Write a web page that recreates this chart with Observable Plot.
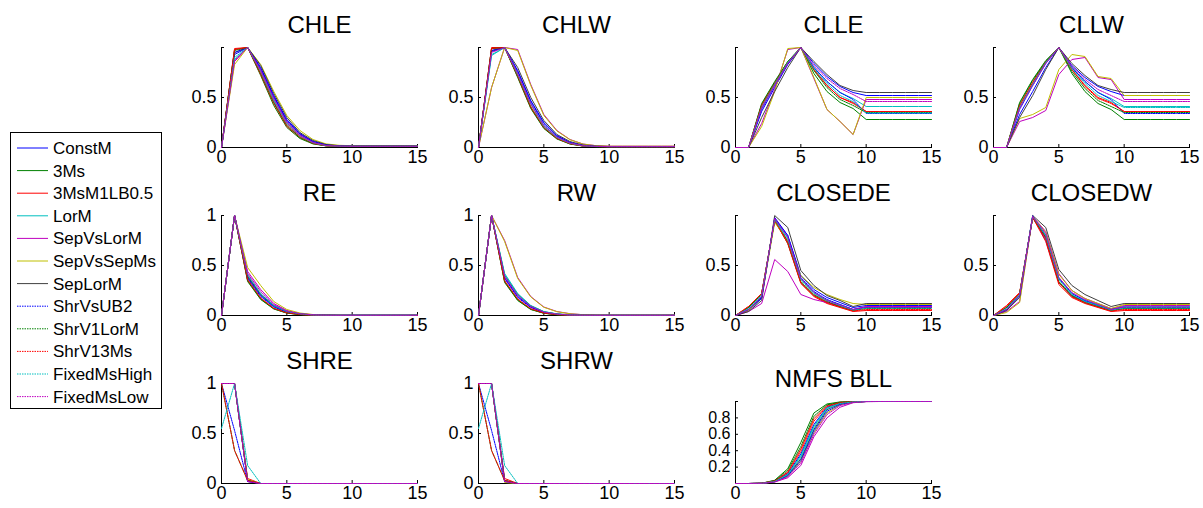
<!DOCTYPE html>
<html>
<head>
<meta charset="utf-8">
<script src="https://cdn.jsdelivr.net/npm/d3@7"></script>
<script src="https://cdn.jsdelivr.net/npm/@observablehq/plot@0.6"></script>
<style>
  html, body { margin: 0; padding: 0; background: #fff; }
  #root { position: relative; width: 1203px; height: 508px; overflow: hidden; font-family: "Liberation Sans", Arial, sans-serif; }
  .pane { position: absolute; }
</style>
</head>
<body>
<div id="root"></div>
<script>
const ages = [0,1,2,3,4,5,6,7,8,9,10,11,12,13,14,15];
const seriesNames = ["ConstM","3Ms","3MsM1LB0.5","LorM","SepVsLorM","SepVsSepMs","SepLorM","ShrVsUB2","ShrV1LorM","ShrV13Ms","FixedMsHigh","FixedMsLow"];
const seriesColors = ["#0000ff","#008000","#ff0000","#00bfbf","#bf00bf","#bfbf00","#404040","#0000ff","#008000","#ff0000","#00bfbf","#bf00bf"];
const seriesDotted = [false,false,false,false,false,false,false,true,true,true,true,true];

const CHLE = [
  [0,0.93,1,0.80,0.52,0.28,0.14,0.06,0.026,0.016,0.013,0.013,0.013,0.013,0.013,0.013],
  [0,0.98,1,0.72,0.42,0.20,0.09,0.036,0.016,0.011,0.010,0.010,0.010,0.010,0.010,0.010],
  [0,0.99,1,0.73,0.44,0.21,0.10,0.040,0.017,0.012,0.011,0.011,0.011,0.011,0.011,0.011],
  [0,0.88,1,0.77,0.48,0.25,0.12,0.050,0.021,0.014,0.012,0.012,0.012,0.012,0.012,0.012],
  [0,0.86,1,0.78,0.50,0.26,0.13,0.055,0.023,0.015,0.013,0.013,0.013,0.013,0.013,0.013],
  [0,0.83,1,0.83,0.56,0.32,0.17,0.080,0.036,0.022,0.018,0.018,0.018,0.018,0.018,0.018],
  [0,0.95,1,0.82,0.54,0.30,0.15,0.070,0.030,0.018,0.015,0.015,0.015,0.015,0.015,0.015],
  [0,0.95,1,0.79,0.51,0.27,0.135,0.060,0.025,0.016,0.013,0.013,0.013,0.013,0.013,0.013],
  [0,0.97,1,0.74,0.45,0.22,0.10,0.040,0.017,0.012,0.011,0.011,0.011,0.011,0.011,0.011],
  [0,0.98,1,0.75,0.46,0.23,0.11,0.045,0.018,0.012,0.011,0.011,0.011,0.011,0.011,0.011],
  [0,0.90,1,0.76,0.47,0.24,0.115,0.048,0.019,0.013,0.012,0.012,0.012,0.012,0.012,0.012],
  [0,0.87,1,0.77,0.49,0.25,0.12,0.050,0.020,0.014,0.012,0.012,0.012,0.012,0.012,0.012]
];
const CHLW = [
  [0,0.96,1,0.77,0.47,0.25,0.12,0.050,0.020,0.012,0.010,0.010,0.010,0.010,0.010,0.010],
  [0,0.99,1,0.70,0.39,0.19,0.085,0.035,0.014,0.009,0.008,0.008,0.008,0.008,0.008,0.008],
  [0,1.00,1,0.71,0.40,0.20,0.09,0.040,0.015,0.010,0.008,0.008,0.008,0.008,0.008,0.008],
  [0,0.92,1,0.74,0.44,0.22,0.105,0.045,0.018,0.011,0.009,0.009,0.009,0.009,0.009,0.009],
  [0,0.60,1,0.98,0.63,0.33,0.17,0.080,0.035,0.018,0.013,0.013,0.013,0.013,0.013,0.013],
  [0,0.60,1,0.97,0.62,0.32,0.165,0.078,0.034,0.018,0.013,0.013,0.013,0.013,0.013,0.013],
  [0,0.97,1,0.80,0.50,0.27,0.13,0.060,0.025,0.013,0.010,0.010,0.010,0.010,0.010,0.010],
  [0,0.97,1,0.76,0.46,0.24,0.115,0.050,0.020,0.011,0.009,0.009,0.009,0.009,0.009,0.009],
  [0,0.99,1,0.71,0.40,0.195,0.09,0.036,0.015,0.009,0.008,0.008,0.008,0.008,0.008,0.008],
  [0,0.99,1,0.72,0.41,0.20,0.092,0.038,0.015,0.010,0.008,0.008,0.008,0.008,0.008,0.008],
  [0,0.93,1,0.73,0.43,0.21,0.10,0.043,0.017,0.010,0.009,0.009,0.009,0.009,0.009,0.009],
  [0,0.95,1,0.74,0.44,0.22,0.105,0.045,0.018,0.011,0.009,0.009,0.009,0.009,0.009,0.009]
];
const CLLE = [
  [0,0,0.36,0.60,0.83,1,0.84,0.71,0.61,0.55,0.52,0.52,0.52,0.52,0.52,0.52],
  [0,0,0.44,0.66,0.86,1,0.74,0.56,0.45,0.39,0.28,0.28,0.28,0.28,0.28,0.28],
  [0,0,0.42,0.64,0.85,1,0.78,0.62,0.50,0.45,0.36,0.36,0.36,0.36,0.36,0.36],
  [0,0,0.40,0.63,0.85,1,0.80,0.66,0.55,0.49,0.41,0.41,0.41,0.41,0.41,0.41],
  [0,0,0.24,0.58,0.98,1,0.69,0.38,0.26,0.13,0.48,0.48,0.48,0.48,0.48,0.48],
  [0,0,0.21,0.56,0.99,1,0.70,0.38,0.26,0.13,0.50,0.50,0.50,0.50,0.50,0.50],
  [0,0,0.30,0.56,0.80,1,0.86,0.73,0.62,0.57,0.55,0.55,0.55,0.55,0.55,0.55],
  [0,0,0.38,0.62,0.84,1,0.80,0.66,0.55,0.48,0.34,0.34,0.34,0.34,0.34,0.34],
  [0,0,0.43,0.65,0.86,1,0.77,0.60,0.48,0.42,0.35,0.35,0.35,0.35,0.35,0.35],
  [0,0,0.42,0.64,0.85,1,0.78,0.62,0.50,0.44,0.36,0.36,0.36,0.36,0.36,0.36],
  [0,0,0.40,0.63,0.85,1,0.79,0.64,0.52,0.46,0.345,0.345,0.345,0.345,0.345,0.345],
  [0,0,0.39,0.62,0.84,1,0.82,0.69,0.59,0.53,0.46,0.46,0.46,0.46,0.46,0.46]
];
const CLLW = [
  [0,0,0.33,0.56,0.80,1,0.82,0.70,0.61,0.56,0.52,0.52,0.52,0.52,0.52,0.52],
  [0,0,0.45,0.68,0.87,1,0.74,0.56,0.44,0.38,0.28,0.28,0.28,0.28,0.28,0.28],
  [0,0,0.42,0.65,0.86,1,0.78,0.62,0.50,0.45,0.36,0.36,0.36,0.36,0.36,0.36],
  [0,0,0.40,0.63,0.85,1,0.80,0.66,0.55,0.49,0.41,0.41,0.41,0.41,0.41,0.41],
  [0,0,0.26,0.30,0.37,0.73,0.88,0.90,0.70,0.68,0.48,0.48,0.48,0.48,0.48,0.48],
  [0,0,0.29,0.33,0.40,0.78,0.93,0.91,0.71,0.69,0.52,0.52,0.52,0.52,0.52,0.52],
  [0,0,0.30,0.52,0.78,1,0.84,0.72,0.62,0.58,0.55,0.55,0.55,0.55,0.55,0.55],
  [0,0,0.38,0.62,0.84,1,0.80,0.66,0.55,0.48,0.34,0.34,0.34,0.34,0.34,0.34],
  [0,0,0.44,0.67,0.86,1,0.76,0.59,0.47,0.41,0.35,0.35,0.35,0.35,0.35,0.35],
  [0,0,0.42,0.65,0.85,1,0.78,0.61,0.49,0.44,0.36,0.36,0.36,0.36,0.36,0.36],
  [0,0,0.40,0.63,0.85,1,0.79,0.64,0.52,0.46,0.40,0.40,0.40,0.40,0.40,0.40],
  [0,0,0.39,0.62,0.84,1,0.81,0.68,0.58,0.52,0.46,0.46,0.46,0.46,0.46,0.46]
];
const RE = [
  [0,1,0.38,0.20,0.090,0.035,0.014,0.006,0.003,0.002,0.002,0.002,0.002,0.002,0.002,0.002],
  [0,1,0.34,0.16,0.065,0.024,0.009,0.004,0.002,0.001,0.001,0.001,0.001,0.001,0.001,0.001],
  [0,1,0.35,0.17,0.070,0.026,0.010,0.004,0.002,0.001,0.001,0.001,0.001,0.001,0.001,0.001],
  [0,1,0.40,0.21,0.095,0.037,0.015,0.006,0.003,0.002,0.002,0.002,0.002,0.002,0.002,0.002],
  [0,1,0.44,0.26,0.12,0.050,0.020,0.008,0.004,0.002,0.002,0.002,0.002,0.002,0.002,0.002],
  [0,1,0.48,0.30,0.14,0.060,0.025,0.010,0.005,0.003,0.002,0.002,0.002,0.002,0.002,0.002],
  [0,1,0.39,0.21,0.10,0.040,0.016,0.007,0.003,0.002,0.002,0.002,0.002,0.002,0.002,0.002],
  [0,1,0.37,0.19,0.085,0.032,0.013,0.005,0.003,0.002,0.002,0.002,0.002,0.002,0.002,0.002],
  [0,1,0.35,0.165,0.068,0.025,0.010,0.004,0.002,0.001,0.001,0.001,0.001,0.001,0.001,0.001],
  [0,1,0.36,0.175,0.073,0.027,0.011,0.004,0.002,0.001,0.001,0.001,0.001,0.001,0.001,0.001],
  [0,1,0.41,0.22,0.10,0.040,0.016,0.006,0.003,0.002,0.002,0.002,0.002,0.002,0.002,0.002],
  [0,1,0.42,0.24,0.11,0.045,0.018,0.007,0.003,0.002,0.002,0.002,0.002,0.002,0.002,0.002]
];
const RW = [
  [0,1,0.38,0.19,0.085,0.032,0.013,0.005,0.003,0.002,0.002,0.002,0.002,0.002,0.002,0.002],
  [0,1,0.33,0.15,0.060,0.022,0.008,0.003,0.002,0.001,0.001,0.001,0.001,0.001,0.001,0.001],
  [0,1,0.34,0.16,0.065,0.024,0.009,0.004,0.002,0.001,0.001,0.001,0.001,0.001,0.001,0.001],
  [0,1,0.42,0.22,0.10,0.040,0.016,0.006,0.003,0.002,0.002,0.002,0.002,0.002,0.002,0.002],
  [0,1,0.75,0.38,0.19,0.085,0.040,0.018,0.008,0.004,0.003,0.003,0.003,0.003,0.003,0.003],
  [0,1,0.74,0.37,0.185,0.082,0.038,0.017,0.008,0.004,0.003,0.003,0.003,0.003,0.003,0.003],
  [0,1,0.40,0.21,0.095,0.037,0.015,0.006,0.003,0.002,0.002,0.002,0.002,0.002,0.002,0.002],
  [0,1,0.37,0.18,0.080,0.030,0.012,0.005,0.002,0.001,0.001,0.001,0.001,0.001,0.001,0.001],
  [0,1,0.34,0.155,0.062,0.023,0.009,0.003,0.002,0.001,0.001,0.001,0.001,0.001,0.001,0.001],
  [0,1,0.35,0.165,0.068,0.025,0.010,0.004,0.002,0.001,0.001,0.001,0.001,0.001,0.001,0.001],
  [0,1,0.41,0.21,0.098,0.038,0.015,0.006,0.003,0.002,0.002,0.002,0.002,0.002,0.002,0.002],
  [0,1,0.39,0.20,0.090,0.034,0.014,0.005,0.003,0.002,0.002,0.002,0.002,0.002,0.002,0.002]
];
const CLOSEDE = [
  [0,0.05,0.17,0.98,0.80,0.40,0.26,0.18,0.13,0.08,0.10,0.10,0.10,0.10,0.10,0.10],
  [0,0.08,0.22,0.95,0.72,0.33,0.20,0.13,0.09,0.05,0.08,0.08,0.08,0.08,0.08,0.08],
  [0,0.09,0.22,0.95,0.72,0.32,0.19,0.12,0.08,0.04,0.05,0.05,0.05,0.05,0.05,0.05],
  [0,0.06,0.19,0.96,0.78,0.37,0.23,0.15,0.11,0.06,0.09,0.09,0.09,0.09,0.09,0.09],
  [0,0.04,0.12,0.56,0.44,0.21,0.16,0.13,0.10,0.06,0.09,0.09,0.09,0.09,0.09,0.09],
  [0,0.05,0.18,0.93,0.75,0.40,0.28,0.21,0.16,0.12,0.11,0.11,0.11,0.11,0.11,0.11],
  [0,0.04,0.15,1.00,0.88,0.45,0.30,0.20,0.15,0.09,0.12,0.12,0.12,0.12,0.12,0.12],
  [0,0.06,0.18,0.97,0.80,0.38,0.24,0.16,0.11,0.06,0.08,0.08,0.08,0.08,0.08,0.08],
  [0,0.08,0.21,0.96,0.74,0.34,0.21,0.14,0.09,0.05,0.07,0.07,0.07,0.07,0.07,0.07],
  [0,0.09,0.22,0.95,0.73,0.33,0.20,0.13,0.085,0.045,0.06,0.06,0.06,0.06,0.06,0.06],
  [0,0.07,0.20,0.96,0.76,0.36,0.22,0.15,0.10,0.055,0.075,0.075,0.075,0.075,0.075,0.075],
  [0,0.06,0.19,0.97,0.78,0.37,0.23,0.15,0.105,0.06,0.085,0.085,0.085,0.085,0.085,0.085]
];
const CLOSEDW = [
  [0,0.06,0.20,1.00,0.75,0.33,0.20,0.14,0.10,0.06,0.09,0.09,0.09,0.09,0.09,0.09],
  [0,0.08,0.22,0.98,0.78,0.33,0.19,0.13,0.09,0.05,0.07,0.07,0.07,0.07,0.07,0.07],
  [0,0.10,0.23,0.98,0.74,0.31,0.18,0.12,0.08,0.04,0.05,0.05,0.05,0.05,0.05,0.05],
  [0,0.05,0.20,0.99,0.80,0.38,0.22,0.15,0.11,0.06,0.09,0.09,0.09,0.09,0.09,0.09],
  [0,0.04,0.14,0.99,0.84,0.42,0.25,0.17,0.12,0.07,0.10,0.10,0.10,0.10,0.10,0.10],
  [0,0.03,0.13,0.99,0.83,0.41,0.25,0.17,0.12,0.07,0.11,0.11,0.11,0.11,0.11,0.11],
  [0,0.05,0.18,1.00,0.88,0.46,0.30,0.21,0.15,0.09,0.12,0.12,0.12,0.12,0.12,0.12],
  [0,0.06,0.20,0.99,0.80,0.37,0.22,0.15,0.10,0.06,0.08,0.08,0.08,0.08,0.08,0.08],
  [0,0.08,0.22,0.98,0.78,0.34,0.20,0.13,0.09,0.05,0.07,0.07,0.07,0.07,0.07,0.07],
  [0,0.09,0.22,0.98,0.77,0.33,0.19,0.13,0.085,0.045,0.06,0.06,0.06,0.06,0.06,0.06],
  [0,0.07,0.21,0.99,0.80,0.36,0.21,0.14,0.10,0.055,0.075,0.075,0.075,0.075,0.075,0.075],
  [0,0.06,0.20,0.99,0.82,0.38,0.23,0.16,0.11,0.06,0.085,0.085,0.085,0.085,0.085,0.085]
];
const SHRE = [
  [1,1,0.03,0,0,0,0,0,0,0,0,0,0,0,0,0],
  [1,1,0.02,0,0,0,0,0,0,0,0,0,0,0,0,0],
  [1,1,0.05,0,0,0,0,0,0,0,0,0,0,0,0,0],
  [1,1,0.03,0,0,0,0,0,0,0,0,0,0,0,0,0],
  [1,1,0.02,0,0,0,0,0,0,0,0,0,0,0,0,0],
  [1,1,0.04,0,0,0,0,0,0,0,0,0,0,0,0,0],
  [1,1,0.03,0,0,0,0,0,0,0,0,0,0,0,0,0],
  [1,0.53,0.02,0,0,0,0,0,0,0,0,0,0,0,0,0],
  [1,0.33,0.03,0,0,0,0,0,0,0,0,0,0,0,0,0],
  [1,0.33,0.03,0,0,0,0,0,0,0,0,0,0,0,0,0],
  [0.55,1,0.18,0,0,0,0,0,0,0,0,0,0,0,0,0],
  [1,1,0.02,0,0,0,0,0,0,0,0,0,0,0,0,0]
];
const SHRW = [
  [1,1,0.03,0,0,0,0,0,0,0,0,0,0,0,0,0],
  [1,1,0.02,0,0,0,0,0,0,0,0,0,0,0,0,0],
  [1,1,0.05,0,0,0,0,0,0,0,0,0,0,0,0,0],
  [1,1,0.03,0,0,0,0,0,0,0,0,0,0,0,0,0],
  [1,1,0.02,0,0,0,0,0,0,0,0,0,0,0,0,0],
  [1,1,0.01,0,0,0,0,0,0,0,0,0,0,0,0,0],
  [1,1,0.03,0,0,0,0,0,0,0,0,0,0,0,0,0],
  [1,0.53,0.02,0,0,0,0,0,0,0,0,0,0,0,0,0],
  [1,0.33,0.03,0,0,0,0,0,0,0,0,0,0,0,0,0],
  [1,0.33,0.03,0,0,0,0,0,0,0,0,0,0,0,0,0],
  [0.55,1,0.18,0,0,0,0,0,0,0,0,0,0,0,0,0],
  [1,1,0.02,0,0,0,0,0,0,0,0,0,0,0,0,0]
];
const NMFSBLL = [
  [0,0,0.002,0.028,0.12,0.36,0.72,0.93,0.98,0.996,1,1,1,1,1,1],
  [0,0,0.003,0.040,0.18,0.50,0.86,0.97,0.995,1,1,1,1,1,1,1],
  [0,0,0.003,0.032,0.14,0.42,0.79,0.95,0.99,0.998,1,1,1,1,1,1],
  [0,0,0.002,0.026,0.11,0.34,0.70,0.92,0.98,0.996,1,1,1,1,1,1],
  [0,0,0.002,0.018,0.07,0.22,0.57,0.80,0.93,0.985,0.998,1,1,1,1,1],
  [0,0,0.002,0.020,0.09,0.27,0.62,0.86,0.96,0.99,1,1,1,1,1,1],
  [0,0,0.002,0.024,0.10,0.30,0.66,0.90,0.97,0.994,1,1,1,1,1,1],
  [0,0,0.002,0.022,0.095,0.28,0.64,0.88,0.965,0.992,1,1,1,1,1,1],
  [0,0,0.003,0.035,0.16,0.45,0.82,0.96,0.99,0.999,1,1,1,1,1,1],
  [0,0,0.003,0.030,0.13,0.39,0.76,0.94,0.985,0.997,1,1,1,1,1,1],
  [0,0,0.002,0.025,0.105,0.32,0.68,0.91,0.975,0.995,1,1,1,1,1,1],
  [0,0,0.002,0.019,0.08,0.25,0.60,0.84,0.95,0.988,0.999,1,1,1,1,1]
];

const xTicks = [0,5,10,15];
const panels = [
  {title:"CHLE", data:CHLE, col:0, row:0, yLabels:[0,0.5], yMarks:[0,0.5,1]},
  {title:"CHLW", data:CHLW, col:1, row:0, yLabels:[0,0.5], yMarks:[0,0.5,1]},
  {title:"CLLE", data:CLLE, col:2, row:0, yLabels:[0,0.5], yMarks:[0,0.5,1]},
  {title:"CLLW", data:CLLW, col:3, row:0, yLabels:[0,0.5], yMarks:[0,0.5,1]},
  {title:"RE", data:RE, col:0, row:1, yLabels:[0,0.5,1], yMarks:[0,0.5,1]},
  {title:"RW", data:RW, col:1, row:1, yLabels:[0,0.5,1], yMarks:[0,0.5,1]},
  {title:"CLOSEDE", data:CLOSEDE, col:2, row:1, yLabels:[0,0.5], yMarks:[0,0.5,1]},
  {title:"CLOSEDW", data:CLOSEDW, col:3, row:1, yLabels:[0,0.5], yMarks:[0,0.5,1]},
  {title:"SHRE", data:SHRE, col:0, row:2, yLabels:[0,0.5,1], yMarks:[0,0.5,1]},
  {title:"SHRW", data:SHRW, col:1, row:2, yLabels:[0,0.5,1], yMarks:[0,0.5,1]},
  {title:"NMFS BLL", data:NMFSBLL, col:2, row:2, yLabels:[0.2,0.4,0.6,0.8], yMarks:[0.2,0.4,0.6,0.8,1], short:true}
];

const colX = [221, 478, 735, 993];
const rowTop = [47, 215, 383];
const plotW = 196, plotH = 100;
const ML = 50, MR = 12, MT = 45, MB = 24;
const FONT = "'Liberation Sans', Arial, sans-serif";
const root = document.getElementById("root");

for (const p of panels) {
  const h = p.short ? 82 : plotH;
  const top = p.short ? 401 : rowTop[p.row];
  const yFont = p.short ? 16 : 18;
  const rows = [];
  p.data.forEach((vals, s) => vals.forEach((v, i) => rows.push({age: ages[i], v, s})));
  const lineMarks = seriesNames.map((name, s) => Plot.line(rows.filter(d => d.s === s), {
    x: "age", y: "v",
    stroke: seriesColors[s],
    strokeWidth: 1,
    strokeDasharray: seriesDotted[s] ? "1.5,1" : null
  }));
  const chart = Plot.plot({
    width: ML + plotW + MR,
    height: MT + h + MB,
    marginLeft: ML, marginRight: MR, marginTop: MT, marginBottom: MB,
    x: {domain: [0, 15], label: null},
    y: {domain: [0, 1], label: null},
    style: {fontFamily: FONT, color: "#000", background: "transparent", overflow: "visible"},
    marks: [
      Plot.axisX({ticks: xTicks, tickSize: 0, tickPadding: 3, fontSize: 18, label: null, tickFormat: d => String(d)}),
      Plot.axisY({ticks: p.yLabels, tickSize: 0, tickPadding: 5, fontSize: yFont, label: null, tickFormat: d => String(d)}),
      Plot.tickX(xTicks, {x: d => d, insetTop: h - 3, stroke: "#000"}),
      Plot.tickY(p.yMarks, {y: d => d, insetRight: plotW - 3, stroke: "#000"}),
      Plot.frame({anchor: "left", stroke: "#000"}),
      Plot.frame({anchor: "bottom", stroke: "#000"}),
      ...lineMarks,
      Plot.text([p.title], {text: d => d, frameAnchor: "top", dy: -15, lineAnchor: "bottom", fontSize: 24, fill: "#000"})
    ]
  });
  const div = document.createElement("div");
  div.className = "pane";
  div.style.left = (colX[p.col] - ML) + "px";
  div.style.top = (top - MT) + "px";
  div.appendChild(chart);
  root.appendChild(div);
}

// Legend
const legW = 152, legH = 277;
const leg = d3.create("svg").attr("width", legW).attr("height", legH)
  .style("position", "absolute").style("left", "10px").style("top", "132px");
leg.append("rect").attr("x", 0.5).attr("y", 0.5).attr("width", legW - 1).attr("height", legH - 1)
  .attr("fill", "#fff").attr("stroke", "#000");
seriesNames.forEach((name, i) => {
  const y = 16 + i * 22.6;
  leg.append("line").attr("x1", 7).attr("x2", 38).attr("y1", y).attr("y2", y)
    .attr("stroke", seriesColors[i]).attr("stroke-width", 1)
    .attr("stroke-dasharray", seriesDotted[i] ? "1.5,1" : null);
  leg.append("text").attr("x", 43).attr("y", y).attr("dy", "0.35em")
    .attr("font-family", FONT).attr("font-size", 17).attr("fill", "#000").text(name);
});
root.appendChild(leg.node());
</script>
</body>
</html>
